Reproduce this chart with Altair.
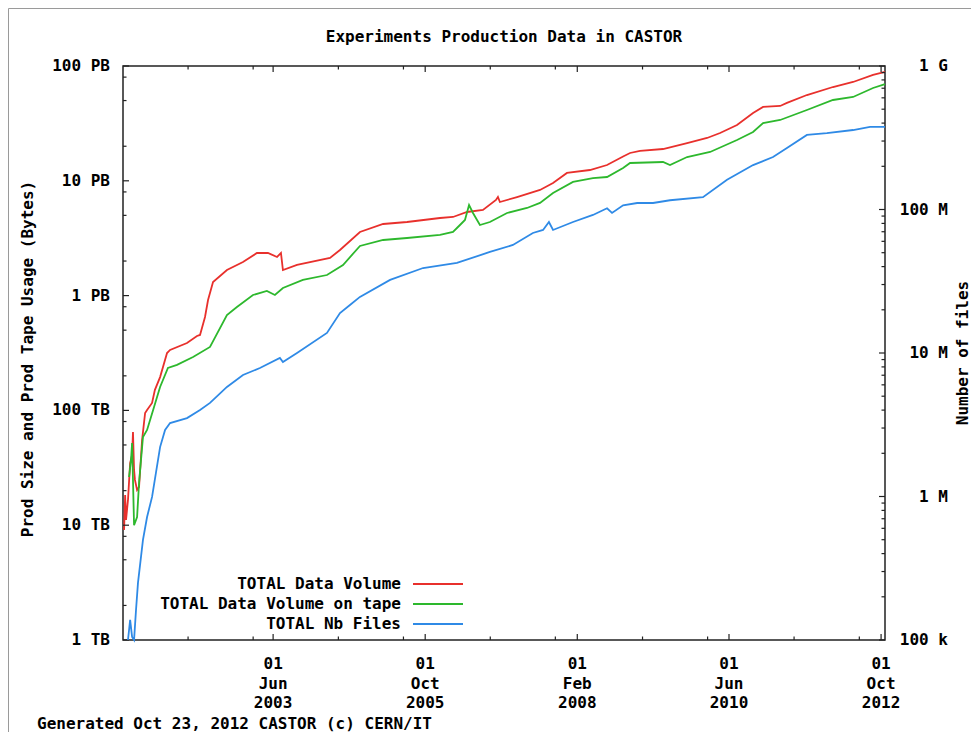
import altair as alt
import pandas as pd

FONT = "DejaVu Sans Mono"
W, H = 762, 574

# ---------------- data ----------------
# decimal years and TB for "TOTAL Data Volume"
vol_year = [2001.124, 2001.140, 2001.155, 2001.186, 2001.217, 2001.247, 2001.263, 2001.278, 2001.293,
            2001.324, 2001.355, 2001.401, 2001.447, 2001.478, 2001.554, 2001.600, 2001.677, 2001.785,
            2001.831, 2002.092, 2002.245, 2002.291, 2002.368, 2002.414, 2002.491, 2002.706, 2002.952,
            2003.167, 2003.336, 2003.474, 2003.535, 2003.566, 2003.781, 2004.288, 2004.441, 2004.748,
            2005.102, 2005.470, 2005.977, 2006.177, 2006.392, 2006.637, 2006.837, 2006.868, 2006.898,
            2007.160, 2007.513, 2007.713, 2007.928, 2008.281, 2008.542, 2008.788, 2008.895, 2009.049,
            2009.402, 2009.771, 2010.078, 2010.277, 2010.538, 2010.784, 2010.939, 2011.200, 2011.306,
            2011.613, 2012.013, 2012.320, 2012.627, 2012.811]
vol_tb = [9.1, 18.3, 11.1, 16.6, 34.8, 40.9, 64.8, 30.3, 24.8, 20.3, 21.5, 55.2, 94.9, 101, 116, 151,
          195, 316, 336, 386, 445, 454, 651, 916, 1313, 1671, 1963, 2350, 2350, 2169, 2350, 1671, 1848,
          2128, 2495, 3581, 4205, 4375, 4742, 4840, 5348, 5570, 6804, 7223, 6535, 7223, 8318, 9572,
          11700, 12420, 13730, 16300, 17470, 18190, 18920, 21340, 23600, 26080, 30620, 38980, 43970,
          44870, 47660, 55880, 65610, 72570, 83530, 88720]

# "TOTAL Data Volume on tape"
tape_year = [2001.201, 2001.232, 2001.247, 2001.263, 2001.278, 2001.324, 2001.355, 2001.416, 2001.478,
             2001.570, 2001.677, 2001.800, 2001.938, 2002.184, 2002.445, 2002.706, 2002.860, 2003.105,
             2003.320, 2003.443, 2003.566, 2003.873, 2004.242, 2004.487, 2004.748, 2005.102, 2005.470,
             2005.977, 2006.177, 2006.284, 2006.361, 2006.422, 2006.484, 2006.591, 2006.745, 2007.006,
             2007.313, 2007.513, 2007.713, 2008.020, 2008.327, 2008.542, 2008.788, 2008.895, 2009.402,
             2009.509, 2009.771, 2010.124, 2010.538, 2010.784, 2010.939, 2011.200, 2011.613, 2012.013,
             2012.320, 2012.627, 2012.811]
tape_tb = [26.3, 37.0, 52.0, 24.8, 10.0, 11.8, 23.3, 58.7, 67.5, 101, 160, 234, 249, 292, 357, 678,
           796, 1012, 1097, 1012, 1165, 1368, 1511, 1848, 2705, 3050, 3176, 3373, 3581, 4121, 4557,
           6155, 5245, 4121, 4375, 5245, 5796, 6412, 7834, 9767, 10570, 10790, 12920, 14290, 14580,
           13730, 16110, 17820, 22660, 26610, 31870, 33870, 41400, 50570, 53700, 64310, 69660]

# "TOTAL Nb Files"
files_year = [2001.186, 2001.217, 2001.247, 2001.278, 2001.309, 2001.339, 2001.416, 2001.478, 2001.554,
              2001.677, 2001.754, 2001.831, 2002.092, 2002.291, 2002.445, 2002.706, 2002.952, 2003.213,
              2003.520, 2003.566, 2003.781, 2004.242, 2004.441, 2004.595, 2004.748, 2005.209, 2005.716,
              2006.238, 2006.745, 2007.098, 2007.405, 2007.559, 2007.651, 2007.713, 2008.020, 2008.327,
              2008.542, 2008.618, 2008.788, 2009.003, 2009.248, 2009.509, 2010.016, 2010.385, 2010.784,
              2011.091, 2011.306, 2011.613, 2011.920, 2012.320, 2012.581, 2012.811]
files_count = [1.0e5, 1.38e5, 1.05e5, 1.0e5, 1.62e5, 2.5e5, 4.98e5, 7.2e5, 9.93e5, 2.21e6, 2.91e6,
               3.25e6, 3.52e6, 4.01e6, 4.49e6, 5.8e6, 7.03e6, 7.86e6, 9.23e6, 8.65e6, 1.0e7, 1.38e7,
               1.9e7, 2.16e7, 2.46e7, 3.23e7, 3.91e7, 4.24e7, 5.06e7, 5.66e7, 6.86e7, 7.2e7, 8.18e7,
               7.2e7, 8.18e7, 9.16e7, 1.02e8, 9.46e7, 1.07e8, 1.11e8, 1.11e8, 1.16e8, 1.22e8, 1.61e8,
               2.04e8, 2.32e8, 2.68e8, 3.31e8, 3.41e8, 3.58e8, 3.76e8, 3.76e8]

series_labels = ["TOTAL Data Volume", "TOTAL Data Volume on tape", "TOTAL Nb Files"]
series_colors = ["#e8302c", "#2db82d", "#2f8ae6"]

x_major = ["2003-06-01", "2005-10-01", "2008-02-01", "2010-06-01", "2012-10-01"]
x_labels = ["01\nJun\n2003", "01\nOct\n2005", "01\nFeb\n2008", "01\nJun\n2010", "01\nOct\n2012"]
x_minor = ["2002-02-09", "2003-02-09", "2004-06-01", "2005-06-01", "2006-10-01", "2007-10-01",
           "2009-02-01", "2010-02-01", "2011-06-01", "2012-06-01"]
left_major = [1, 10, 100, 1000, 10000, 100000]
left_labels = ["1 TB", "10 TB", "100 TB", "1 PB", "10 PB", "100 PB"]
left_minor = [2, 5, 8, 20, 50, 80, 200, 500, 800, 2000, 5000, 8000, 20000, 50000, 80000]
right_major = [1e5, 1e6, 1e7, 1e8, 1e9]
right_labels = ["100 k", "1 M", "10 M", "100 M", "1 G"]
right_minor = [m * 10 ** e for e in range(5, 9) for m in range(2, 10)]

title_text = "Experiments Production Data in CASTOR"
left_title = "Prod Size and Prod Tape Usage (Bytes)"
right_title = "Number of files"
footer_text = "Generated Oct 23, 2012 CASTOR (c) CERN/IT"


def ydate(v):
    y = int(v)
    s = pd.Timestamp(y, 1, 1)
    e = pd.Timestamp(y + 1, 1, 1)
    return (s + (e - s) * (v - y)).strftime("%Y-%m-%d")


def dt(s):
    y, m, d = (int(p) for p in s.split("-"))
    return alt.DateTime(year=y, month=m, date=d, utc=True)


vol_df = pd.DataFrame({"date": [ydate(v) for v in vol_year], "tb": vol_tb})
tape_df = pd.DataFrame({"date": [ydate(v) for v in tape_year], "tb": tape_tb})
files_df = pd.DataFrame({"date": [ydate(v) for v in files_year], "files": files_count})
one = pd.DataFrame({"k": [0]})

xscale = alt.Scale(type="utc", domain=[dt("2001-02-09"), dt("2012-10-23")], nice=False)
lscale = alt.Scale(type="log", domain=[1, 100000], nice=False)
rscale = alt.Scale(type="log", domain=[1e5, 1e9], nice=False)

TXT = dict(font=FONT, fontSize=16, fontWeight="bold", color="#000")
tick_col = "#222"
LW = 1.8

red = alt.Chart(vol_df).mark_line(color=series_colors[0], strokeWidth=LW).encode(
    x=alt.X("date:T", scale=xscale, axis=None),
    y=alt.Y("tb:Q", scale=lscale, axis=None),
)
green = alt.Chart(tape_df).mark_line(color=series_colors[1], strokeWidth=LW).encode(
    x=alt.X("date:T", axis=None), y=alt.Y("tb:Q", axis=None)
)

# ticks (drawn inward, as in the reference)
lmaj = alt.Chart(pd.DataFrame({"tb": left_major})).mark_rule(color=tick_col, strokeWidth=1.2).encode(
    y=alt.Y("tb:Q", axis=None), x=alt.value(0), x2=alt.value(6))
lmin = alt.Chart(pd.DataFrame({"tb": left_minor})).mark_rule(color=tick_col, strokeWidth=1.2).encode(
    y=alt.Y("tb:Q", axis=None), x=alt.value(0), x2=alt.value(3.5))
bmaj = alt.Chart(pd.DataFrame({"date": x_major})).mark_rule(color=tick_col, strokeWidth=1.2).encode(
    x=alt.X("date:T", axis=None), y=alt.value(H), y2=alt.value(H - 6))
bmin = alt.Chart(pd.DataFrame({"date": x_minor})).mark_rule(color=tick_col, strokeWidth=1.2).encode(
    x=alt.X("date:T", axis=None), y=alt.value(H), y2=alt.value(H - 3.5))
tmaj = alt.Chart(pd.DataFrame({"date": x_major})).mark_rule(color=tick_col, strokeWidth=1.2).encode(
    x=alt.X("date:T", axis=None), y=alt.value(0), y2=alt.value(6))
tmin = alt.Chart(pd.DataFrame({"date": x_minor})).mark_rule(color=tick_col, strokeWidth=1.2).encode(
    x=alt.X("date:T", axis=None), y=alt.value(0), y2=alt.value(3.5))

# tick labels, placed through the scales
llab = alt.Chart(pd.DataFrame({"tb": left_major, "lab": left_labels})).mark_text(
    align="right", baseline="middle", **TXT).encode(
    y=alt.Y("tb:Q", axis=None), x=alt.value(-13), text="lab:N")
xlab = alt.Chart(pd.DataFrame({"date": x_major, "lab": x_labels})).mark_text(
    align="center", baseline="top", lineBreak="\n", lineHeight=19.5, **TXT).encode(
    x=alt.X("date:T", axis=None), y=alt.value(H + 16), text="lab:N")

# titles
title_mark = alt.Chart(one).mark_text(align="center", baseline="alphabetic", **TXT).encode(
    x=alt.value(W / 2), y=alt.value(-24), text=alt.value(title_text))
ltitle = alt.Chart(one).mark_text(align="center", baseline="middle", angle=270, **TXT).encode(
    x=alt.value(-95), y=alt.value(293), text=alt.value(left_title))
rtitle = alt.Chart(one).mark_text(align="center", baseline="middle", angle=270, **TXT).encode(
    x=alt.value(W + 78), y=alt.value(287), text=alt.value(right_title))
footer = alt.Chart(one).mark_text(align="left", baseline="alphabetic", **TXT).encode(
    x=alt.value(-86), y=alt.value(H + 89), text=alt.value(footer_text))

border = alt.Chart(one).mark_rect(fill="transparent", fillOpacity=0, stroke="#9a9a9a",
                                  strokeWidth=1).encode(
    x=alt.value(-114.5), x2=alt.value(1200), y=alt.value(-57.5), y2=alt.value(900))

legend_layers = []
for i, (lab, col) in enumerate(zip(series_labels, series_colors)):
    yy = 518 + 20 * i
    legend_layers.append(
        alt.Chart(one).mark_text(align="right", baseline="middle", **TXT).encode(
            x=alt.value(278), y=alt.value(yy), text=alt.value(lab)))
    legend_layers.append(
        alt.Chart(one).mark_rule(color=col, strokeWidth=LW).encode(
            x=alt.value(290), x2=alt.value(340), y=alt.value(yy)))

left_group = alt.layer(border, title_mark, ltitle, rtitle, footer, red, green,
                       lmaj, lmin, bmaj, bmin, tmaj, tmin, llab, xlab, *legend_layers)

blue = alt.Chart(files_df).mark_line(color=series_colors[2], strokeWidth=LW).encode(
    x=alt.X("date:T", axis=None),
    y=alt.Y("files:Q", scale=rscale, axis=None),
)
rmaj = alt.Chart(pd.DataFrame({"files": right_major})).mark_rule(color=tick_col, strokeWidth=1.2).encode(
    y=alt.Y("files:Q", axis=None), x=alt.value(W - 6), x2=alt.value(W))
rmin = alt.Chart(pd.DataFrame({"files": right_minor})).mark_rule(color=tick_col, strokeWidth=1.2).encode(
    y=alt.Y("files:Q", axis=None), x=alt.value(W - 3.5), x2=alt.value(W))
rlab = alt.Chart(pd.DataFrame({"files": right_major, "lab": right_labels})).mark_text(
    align="right", baseline="middle", **TXT).encode(
    y=alt.Y("files:Q", axis=None), x=alt.value(W + 63), text="lab:N")
right_group = alt.layer(blue, rmaj, rmin, rlab)

chart = alt.layer(left_group, right_group).resolve_scale(y="independent").properties(
    width=W, height=H,
    autosize=alt.AutoSizeParams(type="none"),
    padding={"left": 115, "top": 58, "right": 86, "bottom": 92},
    background="white",
).configure_view(stroke="#222", strokeWidth=1.5)

chart.save("out.html", embed_options={"renderer": "svg", "actions": False})
